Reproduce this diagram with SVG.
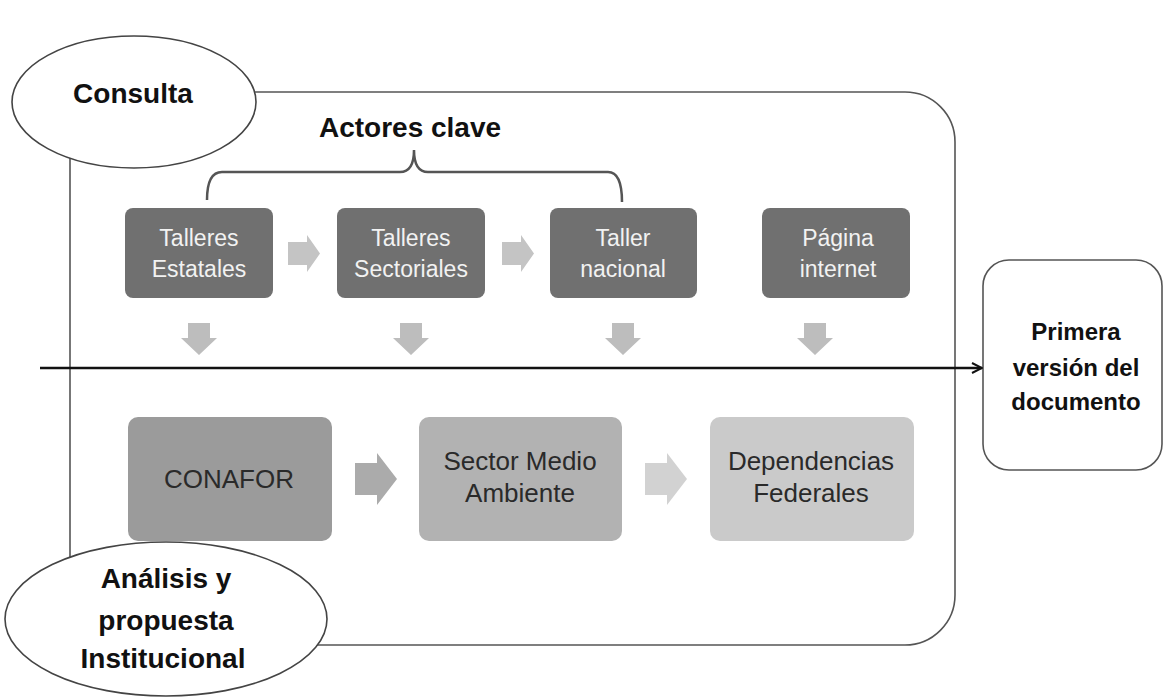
<svg xmlns="http://www.w3.org/2000/svg" width="1164" height="698" viewBox="0 0 1164 698">
<style>
.frame{fill:#fff;stroke:#555;stroke-width:1.6}
.oval{fill:#fff;stroke:#444;stroke-width:1.6}
.top{fill:#707070}
.ttxt{font-family:"Liberation Sans",Arial,sans-serif;font-size:23px;fill:#f2f2f2;text-anchor:middle}
.btxt{font-family:"Liberation Sans",Arial,sans-serif;font-size:26px;fill:#2a2a2a;text-anchor:middle}
.bold{font-family:"Liberation Sans",Arial,sans-serif;font-weight:bold;fill:#111;text-anchor:middle}
.dn{fill:#bdbdbd}
.rt{fill:#c4c4c4}
</style>
<defs>
<marker id="open" viewBox="0 0 12 12" refX="11" refY="6" markerWidth="12" markerHeight="12" markerUnits="userSpaceOnUse" orient="auto">
<path d="M1,1 L11,6 L1,11" fill="none" stroke="#111" stroke-width="2"/>
</marker>
</defs>
<g id="frame">
<rect class="frame" x="70" y="92" width="885" height="553" rx="50" ry="50"/>
</g>
<g id="consulta">
<ellipse class="oval" cx="134" cy="102" rx="122" ry="66"/>
<text class="bold" x="133" y="103" font-size="28">Consulta</text>
</g>
<g id="actores">
<path d="M207,200 Q207,172 222,172 H400 Q414,172 414,150 Q414,172 428,172 H608 Q622,172 622,202" fill="none" stroke="#555" stroke-width="2.5"/>
<text class="bold" x="410" y="137" font-size="28">Actores clave</text>
</g>
<g id="talleres-estatales">
<rect class="top" x="125" y="208" width="148" height="90" rx="8"/>
<text class="ttxt" x="199" y="246">Talleres</text>
<text class="ttxt" x="199" y="277">Estatales</text>
</g>
<g id="talleres-sectoriales">
<rect class="top" x="337" y="208" width="148" height="90" rx="8"/>
<text class="ttxt" x="411" y="246">Talleres</text>
<text class="ttxt" x="411" y="277">Sectoriales</text>
</g>
<g id="taller-nacional">
<rect class="top" x="550" y="208" width="147" height="90" rx="8"/>
<text class="ttxt" x="623" y="246">Taller</text>
<text class="ttxt" x="623" y="277">nacional</text>
</g>
<g id="pagina-internet">
<rect class="top" x="762" y="208" width="148" height="90" rx="8"/>
<text class="ttxt" x="838" y="246">Página</text>
<text class="ttxt" x="838" y="277">internet</text>
</g>
<g id="conafor">
<rect x="128" y="417" width="204" height="124" rx="10" fill="#9b9b9b"/>
<text class="btxt" x="229" y="488">CONAFOR</text>
</g>
<g id="sector-medio-ambiente">
<rect x="419" y="417" width="203" height="124" rx="10" fill="#b2b2b2"/>
<text class="btxt" x="520" y="470">Sector Medio</text>
<text class="btxt" x="520" y="502">Ambiente</text>
</g>
<g id="dependencias-federales">
<rect x="710" y="417" width="204" height="124" rx="10" fill="#cacaca"/>
<text class="btxt" x="811" y="470">Dependencias</text>
<text class="btxt" x="811" y="502">Federales</text>
</g>
<g id="analisis">
<ellipse class="oval" cx="166" cy="619" rx="161" ry="77"/>
<text class="bold" x="166" y="588" font-size="28">Análisis y</text>
<text class="bold" x="166" y="630" font-size="28">propuesta</text>
<text class="bold" x="163" y="668" font-size="28">Institucional</text>
</g>
<g id="primera-version">
<rect x="983" y="260" width="179" height="210" rx="26" fill="#fff" stroke="#555" stroke-width="1.6"/>
<text class="bold" x="1076" y="340" font-size="24">Primera</text>
<text class="bold" x="1076" y="376" font-size="24">versión del</text>
<text class="bold" x="1076" y="410" font-size="24">documento</text>
</g>
<g id="connectors">
<path class="rt" d="M288,242 H307 V235 L320,253.5 L307,272 V265 H288 Z"/>
<path class="rt" d="M502,242 H521 V235 L534,253.5 L521,272 V265 H502 Z"/>
<path class="dn" d="M188,323 H210 V338 H217 L199,355 L181,338 H188 Z"/>
<path class="dn" d="M400,323 H422 V338 H429 L411,355 L393,338 H400 Z"/>
<path class="dn" d="M612,323 H634 V338 H641 L623,355 L605,338 H612 Z"/>
<path class="dn" d="M804,323 H826 V338 H833 L815,355 L797,338 H804 Z"/>
<path fill="#ababab" d="M355,463 H377 V453 L397,479 L377,505 V495 H355 Z"/>
<path fill="#d2d2d2" d="M645,463 H667 V453 L687,479 L667,505 V495 H645 Z"/>
<line x1="40" y1="368" x2="982" y2="368" stroke="#111" stroke-width="2.5" marker-end="url(#open)"/>
</g>
</svg>
